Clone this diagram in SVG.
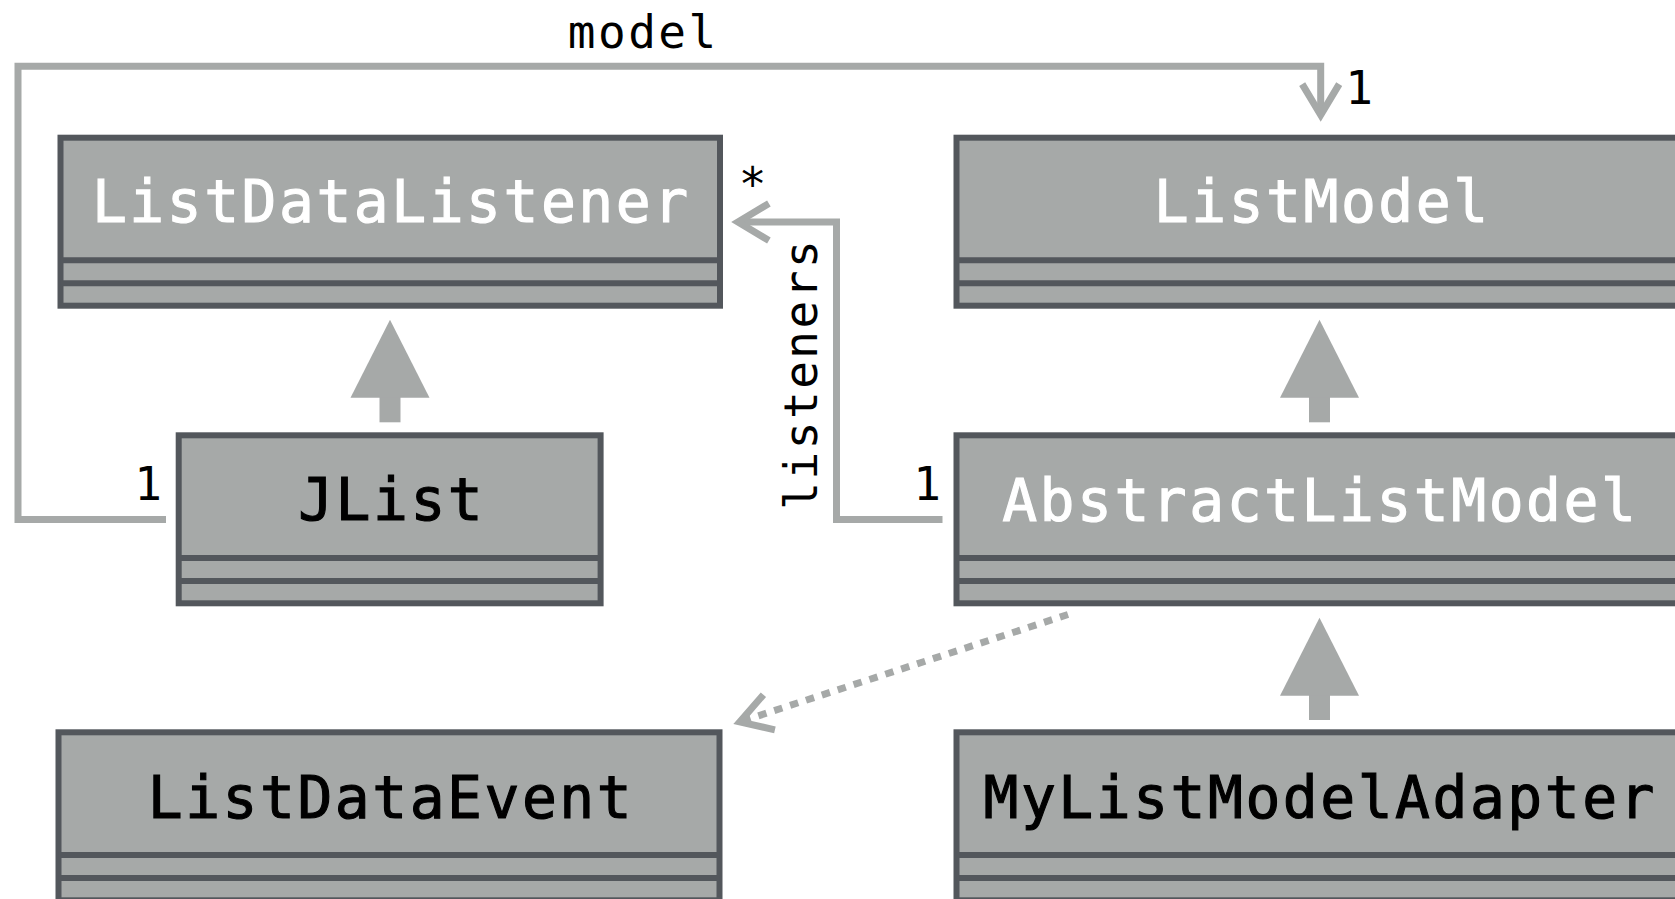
<svg xmlns="http://www.w3.org/2000/svg" width="1675" height="899" viewBox="0 0 1675 899">
<style>
.box{fill:#a6a9a8;stroke:#53575c;stroke-width:6}
.sep{stroke:#53575c;stroke-width:6}
.title{font-family:"DejaVu Sans Mono","Liberation Mono",monospace;font-size:58px;letter-spacing:2.5px;text-anchor:middle;stroke-width:1.1px}
.w{fill:#ffffff;stroke:#ffffff}
.k{fill:#000000;stroke:#000000}
.lbl{font-family:"DejaVu Sans Mono","Liberation Mono",monospace;font-size:46px;letter-spacing:2.5px;fill:#000000;text-anchor:middle}
.assoc{fill:none;stroke:#a6a9a8;stroke-width:7}
.dep{fill:none;stroke:#a6a9a8;stroke-width:7;stroke-dasharray:8.5 8.2}
.gen{fill:none;stroke:#a6a9a8;stroke-width:21}
</style>
<defs>
<marker id="open" markerUnits="userSpaceOnUse" orient="auto" refX="0" refY="0" markerWidth="80" markerHeight="80" overflow="visible">
<path d="M-30.9,-18.5 L0,0 L-30.9,18.5" fill="none" stroke="#a6a9a8" stroke-width="7"/>
</marker>
<marker id="tri" markerUnits="userSpaceOnUse" orient="auto" refX="0" refY="0" markerWidth="100" markerHeight="100" overflow="visible">
<path d="M-1,-39.5 L77,0 L-1,39.5 Z" fill="#a6a9a8"/>
</marker>
</defs>

<g id="connectors">
<path class="assoc" d="M166,519.5 H18 V66.3 H1320.7 V115" marker-end="url(#open)"/>
<path class="assoc" d="M942.5,519.5 H836.5 V222 H738" marker-end="url(#open)"/>
<path class="dep" d="M1068,614.5 L739.8,721.9" marker-end="url(#open)"/>
<path class="gen" d="M390,422.3 V396.7" marker-end="url(#tri)"/>
<path class="gen" d="M1319.5,422.3 V396.7" marker-end="url(#tri)"/>
<path class="gen" d="M1319.5,720 V694.7" marker-end="url(#tri)"/>
</g>

<g id="labels">
<text class="lbl" x="643.25" y="47.5">model</text>
<text class="lbl" x="1360.25" y="104">1</text>
<text class="lbl" x="149.25" y="500">1</text>
<text class="lbl" x="928.25" y="500">1</text>
<text class="lbl" x="753.75" y="200">*</text>
<text class="lbl" transform="translate(817,373.75) rotate(-90)" x="0" y="0">listeners</text>
</g>

<g id="ListDataListener">
<rect class="box" x="60.5" y="137.7" width="659.5" height="168"/>
<line class="sep" x1="60.5" y1="260.3" x2="720" y2="260.3"/>
<line class="sep" x1="60.5" y1="283.3" x2="720" y2="283.3"/>
<text class="title w" x="391.25" y="221.9">ListDataListener</text>
</g>

<g id="ListModel">
<rect class="box" x="956.5" y="137.7" width="760" height="168"/>
<line class="sep" x1="956.5" y1="260.3" x2="1716.5" y2="260.3"/>
<line class="sep" x1="956.5" y1="283.3" x2="1716.5" y2="283.3"/>
<text class="title w" x="1322.25" y="222.3">ListModel</text>
</g>

<g id="JList">
<rect class="box" x="178.7" y="435.3" width="421.9" height="168"/>
<line class="sep" x1="178.7" y1="557.9" x2="600.6" y2="557.9"/>
<line class="sep" x1="178.7" y1="580.9" x2="600.6" y2="580.9"/>
<text class="title k" x="391.75" y="520.3">JList</text>
</g>

<g id="AbstractListModel">
<rect class="box" x="956.5" y="435.3" width="760" height="168"/>
<line class="sep" x1="956.5" y1="557.9" x2="1716.5" y2="557.9"/>
<line class="sep" x1="956.5" y1="580.9" x2="1716.5" y2="580.9"/>
<text class="title w" x="1320.25" y="520.7">AbstractListModel</text>
</g>

<g id="ListDataEvent">
<rect class="box" x="58.5" y="732.3" width="661" height="168"/>
<line class="sep" x1="58.5" y1="854.9" x2="719.5" y2="854.9"/>
<line class="sep" x1="58.5" y1="877.9" x2="719.5" y2="877.9"/>
<text class="title k" x="390.95" y="817.7">ListDataEvent</text>
</g>

<g id="MyListModelAdapter">
<rect class="box" x="956.5" y="732.3" width="760" height="168"/>
<line class="sep" x1="956.5" y1="854.9" x2="1716.5" y2="854.9"/>
<line class="sep" x1="956.5" y1="877.9" x2="1716.5" y2="877.9"/>
<text class="title k" x="1320.25" y="817.7">MyListModelAdapter</text>
</g>
</svg>
